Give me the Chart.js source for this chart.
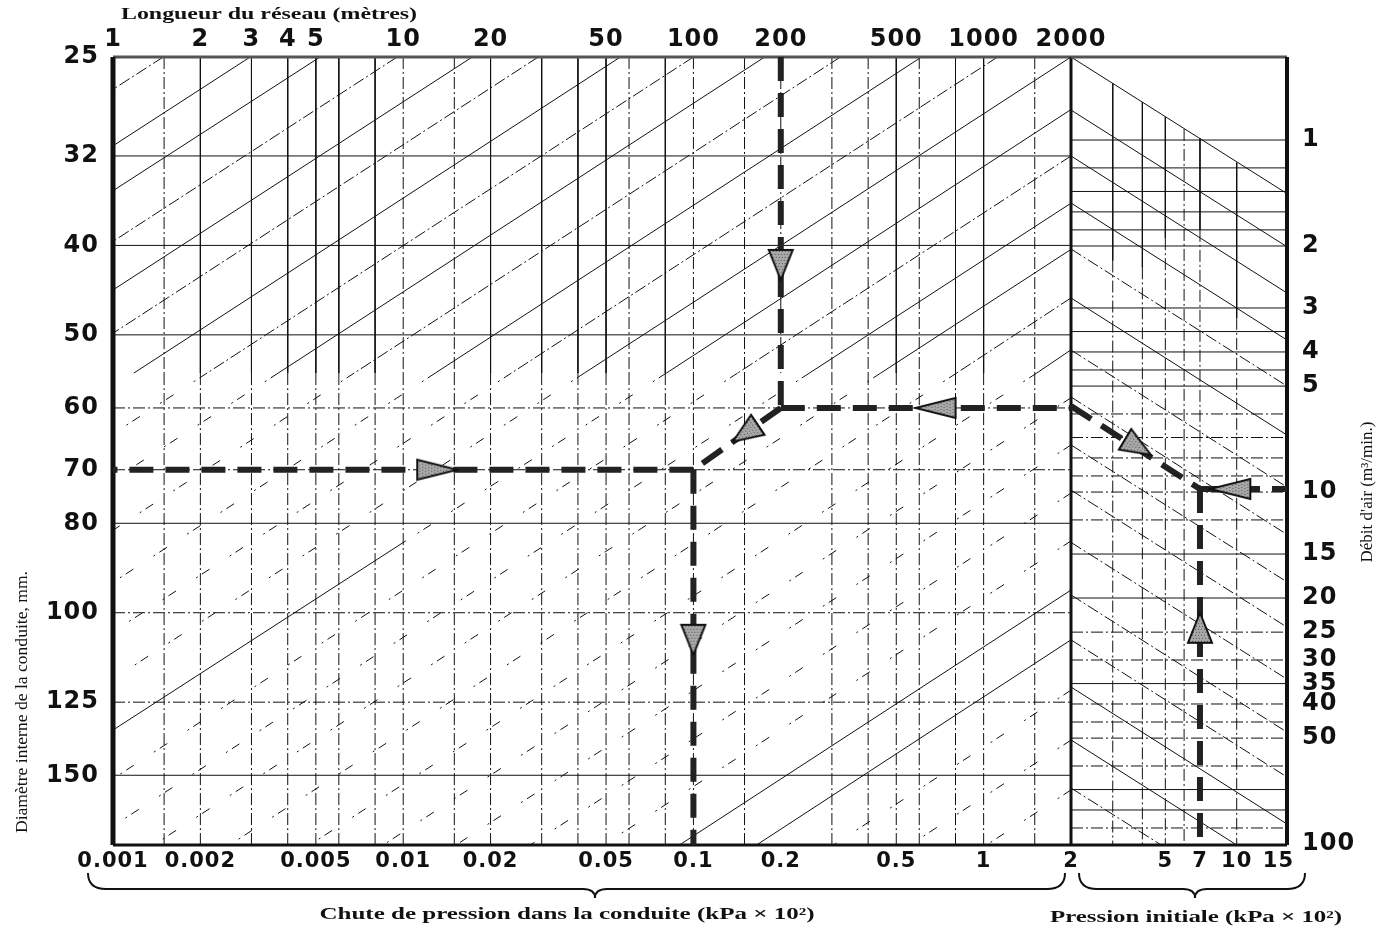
<!DOCTYPE html>
<html>
<head>
<meta charset="utf-8">
<title>Nomogramme réseau d'air comprimé</title>
<script src="https://cdn.jsdelivr.net/npm/chart.js@4.4.1/dist/chart.umd.min.js"></script>
<style>
  html, body { margin: 0; padding: 0; background: #fff; }
  #wrap { position: relative; width: 1385px; height: 930px; }
  #wrap canvas { position: absolute; left: 0; top: 0; }
</style>
</head>
<body>
<div id="wrap">
  <canvas id="leftPanel" width="1385" height="930"></canvas>
  <canvas id="rightPanel" width="1385" height="930"></canvas>
</div>
<script>
// ---- tick labels ----
const diamTicks = [25, 32, 40, 50, 60, 70, 80, 100, 125, 150];
const lengthTicks = [1, 2, 3, 4, 5, 10, 20, 50, 100, 200, 500, 1000, 2000];
const dropTicks = [0.001, 0.002, 0.005, 0.01, 0.02, 0.05, 0.1, 0.2, 0.5, 1, 2];
const initTicks = [5, 7, 10, 15];
const flowTicks = [1, 2, 3, 4, 5, 10, 15, 20, 25, 30, 35, 40, 50, 100];

// ---- left panel grid (diametre mm / longueur m) ----
const diamSolid = [32, 40, 50, 80, 150];
const diamDash = [60, 70, 100, 125];
const lenSolid = [2, 3, 4, 5, 6, 8, 20, 30, 40, 50, 80, 500, 800, 1000];
const lenDash = [1.5, 10, 15, 60, 100, 150, 200, 300, 400, 600, 1500];
const lenAll = [1.5, 2, 3, 4, 5, 6, 8, 10, 15, 20, 30, 40, 50, 60, 80, 100, 150, 300, 400, 500, 600, 800, 1000, 1500];

// diagonals [chute1, diam1, chute2, diam2]
const diagSolid = [
  [0.00297, 25, 0.001, 31.2], [0.00517, 25, 0.001, 34.9], [0.0173, 25, 0.001, 44.7],
  [0.056, 25, 0.00118, 55], [0.176, 25, 0.00371, 55], [0.611, 25, 0.0129, 55],
  [2, 25, 0.0421, 55], [2, 28.5, 0.0807, 55], [2, 36.0, 0.251, 55],
  [2, 40.4, 0.442, 55], [2, 51.9, 1.524, 55],
  [0.0102, 83.6, 0.001, 134], [2, 94.5, 0.0895, 178.5], [2, 107, 0.165, 178.5]
];
const diagDash = [
  [0.00149, 25, 0.001, 27.1], [0.00953, 25, 0.001, 39.6], [0.0292, 25, 0.001, 49.8],
  [0.1, 25, 0.00211, 55], [0.321, 25, 0.00678, 55], [1.117, 25, 0.0236, 55],
  [2, 32.0, 0.142, 55], [2, 45.6, 0.807, 55]
];
const diagSparse = [
  [0.00211, 55, 0.001, 64.0], [0.00371, 55, 0.001, 71.8], [0.00678, 55, 0.001, 81.4],
  [0.0129, 55, 0.001, 92.7], [0.0236, 55, 0.001, 104.9], [0.0421, 55, 0.001, 118.0],
  [0.0807, 55, 0.0102, 83.6], [0.142, 55, 0.001, 151.3], [0.251, 55, 0.001, 170.3],
  [0.442, 55, 0.00138, 178.5], [0.807, 55, 0.00252, 178.5], [1.524, 55, 0.00476, 178.5],
  [2, 58.5, 0.00853, 178.5], [2, 65.8, 0.0152, 178.5], [2, 74.2, 0.0274, 178.5],
  [2, 83.6, 0.049, 178.5], [2, 121.3, 0.304, 178.5], [2, 137.4, 0.557, 178.5],
  [2, 155.6, 1.023, 178.5]
];

// example path, left panel
const pathLeft = [
  [0.2, 25, 0.2, 60], [0.2, 60, 2, 60], [0.2, 60, 0.1, 70],
  [0.1, 70, 0.001, 70], [0.1, 70, 0.1, 178.5]
];
const arrowsLeft = [
  { x: 0.2, y: 42 }, { x: 0.683, y: 60 }, { x: 0.151, y: 63.9 },
  { x: 0.0131, y: 70 }, { x: 0.1, y: 107 }
];

// ---- right panel (pression initiale / debit d'air) ----
const flowSolid = [1, 1.2, 1.4, 1.6, 1.8, 2, 3, 3.5, 4, 4.5, 5, 15, 20, 35, 70, 80];
const flowDash = [6, 7, 8, 9, 10, 12, 25, 30, 40, 45, 50, 60, 90];
// [pression, debit haut, debit bas]
const initSolid = [[3, 0.69, 2.2], [4, 0.78, 2.3], [5, 0.86, 1.9], [7, 0.99, 1.8], [10, 1.16, 3.2]];
const initDash = [[3, 2.2, 100.6], [4, 2.3, 100.6], [5, 1.9, 100.6], [6, 0.93, 100.6], [7, 1.8, 9.8], [10, 3.2, 100.6]];
// [pression1, debit1, pression2, debit2]
const rdSolid = [
  [2, 0.581, 16.3, 1.42], [2, 0.822, 16.3, 2.01], [2, 1.11, 16.3, 2.72],
  [2, 1.51, 16.3, 3.70], [2, 2.81, 16.3, 6.89], [2, 35.8, 16.3, 87.7], [2, 50.6, 10.0, 100.6]
];
const rdDash = [
  [2, 2.04, 16.3, 5.0], [2, 3.95, 16.3, 9.68], [2, 5.37, 16.3, 13.2],
  [2, 7.35, 16.3, 18.0], [2, 9.87, 16.3, 24.2], [2, 13.9, 16.3, 34.0],
  [2, 19.6, 16.3, 48.1], [2, 26.3, 16.3, 64.5], [2, 69.3, 4.8, 100.6]
];
const pathRight = [[2, 5.7, 7, 9.8], [7, 9.8, 16.3, 9.8], [7, 9.8, 7, 100.6]];
const arrowsRight = [{ x: 3.83, y: 7.45 }, { x: 9.4, y: 9.8 }, { x: 7, y: 24.3 }];

const D_MIN = 25, D_MAX = 178.5, P_MIN = 0.001, P_MAX = 2;
const L_MIN = 1, L_MAX = 2000;
const I_MIN = 2, I_MAX = 16.3, Q_MIN = 0.581, Q_MAX = 100.6;

function segs(list) {
  const pts = [];
  list.forEach(s => {
    pts.push({ x: s[0], y: s[1] }, { x: s[2], y: s[3] }, { x: s[2], y: null });
  });
  return pts;
}
const hSegs = (vals, a, b) => segs(vals.map(v => [a, v, b, v]));
const vSegs = (vals, a, b) => segs(vals.map(v => [v, a, v, b]));

const DASHDOT = [12, 3, 2, 3];
const SPARSE = [9, 5, 2, 24];
const INK = '#111';

function line(data, extra) {
  return Object.assign({
    data: data, showLine: true, pointRadius: 0, borderColor: INK, borderWidth: 1,
    fill: false, spanGaps: false, order: 10
  }, extra);
}

// arrow heads (stippled triangles, pointing up before rotation)
function makeTri(w, h) {
  const c = document.createElement('canvas');
  c.width = w + 4; c.height = h + 4;
  const g = c.getContext('2d');
  g.beginPath();
  g.moveTo(c.width / 2, 2); g.lineTo(w + 2, h + 2); g.lineTo(2, h + 2); g.closePath();
  g.fillStyle = '#a8a8a8'; g.fill();
  g.save(); g.clip(); g.fillStyle = '#555';
  for (let i = 0; i < c.width; i += 3) for (let j = 0; j < c.height; j += 3) g.fillRect(i + (j % 2), j, 1, 1);
  g.restore();
  g.lineWidth = 2; g.strokeStyle = INK; g.stroke();
  return c;
}
const triV = makeTri(24, 30);
const triH = makeTri(20, 40);

// custom tick lists + fixed axis sizes
function fixTicks(vals) { return axis => { axis.ticks = vals.map(v => ({ value: v })); }; }
const tickFont = size => ({ family: 'DejaVu Sans', weight: 'bold', size: size });
function logAxis(extra) {
  return Object.assign({
    type: 'logarithmic',
    grid: { display: false, drawTicks: false },
    border: { display: false }
  }, extra);
}

function fitText(ctx, text, cx, cy, width, font, rot) {
  ctx.save();
  ctx.font = font;
  ctx.fillStyle = INK;
  ctx.textAlign = 'center';
  ctx.textBaseline = 'middle';
  ctx.translate(cx, cy);
  if (rot) ctx.rotate(rot);
  const w = ctx.measureText(text).width;
  ctx.scale(width / w, 1);
  ctx.fillText(text, 0, 0);
  ctx.restore();
}

function drawBrace(ctx, x1, x2, xm, y0) {
  const y1 = y0 + 16, y2 = y0 + 25;
  ctx.beginPath();
  ctx.moveTo(x1, y0);
  ctx.quadraticCurveTo(x1, y1, x1 + 18, y1);
  ctx.lineTo(xm - 12, y1);
  ctx.quadraticCurveTo(xm, y1, xm, y2);
  ctx.quadraticCurveTo(xm, y1, xm + 12, y1);
  ctx.lineTo(x2 - 18, y1);
  ctx.quadraticCurveTo(x2, y1, x2, y0);
  ctx.stroke();
}

const spacing = {
  id: 'spacing',
  beforeDraw(chart) { chart.ctx.letterSpacing = '1px'; }
};

const decorLeft = {
  id: 'decorLeft',
  afterDraw(chart) {
    const ctx = chart.ctx;
    const xs = chart.scales.x;
    ctx.save();
    ctx.letterSpacing = '0px';
    ctx.strokeStyle = INK;
    ctx.lineWidth = 2;
    drawBrace(ctx, xs.getPixelForValue(P_MIN) - 25, xs.getPixelForValue(P_MAX) - 6, 595, 873);
    fitText(ctx, 'Longueur du réseau (mètres)', 269, 15, 296, 'bold 16px "Liberation Serif"');
    fitText(ctx, 'Diamètre interne de la conduite, mm.', 23, 702, 262, '17px "Liberation Serif"', -Math.PI / 2);
    fitText(ctx, 'Chute de pression dans la conduite (kPa × 10²)', 567, 915, 495, 'bold 16px "Liberation Serif"');
    ctx.restore();
  }
};

const decorRight = {
  id: 'decorRight',
  afterDraw(chart) {
    const ctx = chart.ctx;
    const xs = chart.scales.x;
    ctx.save();
    ctx.letterSpacing = '0px';
    ctx.strokeStyle = INK;
    ctx.lineWidth = 2;
    drawBrace(ctx, xs.getPixelForValue(I_MIN) + 8, xs.getPixelForValue(I_MAX) + 18, 1195, 873);
    fitText(ctx, 'Pression initiale (kPa × 10²)', 1196, 918, 292, 'bold 16px "Liberation Serif"');
    fitText(ctx, 'Débit d\'air (m³/min.)', 1368, 492, 141, '16px "Liberation Serif"', -Math.PI / 2);
    ctx.restore();
  }
};

const common = {
  responsive: false,
  animation: false,
  devicePixelRatio: 1,
  events: [],
  plugins: { legend: { display: false }, tooltip: { enabled: false } }
};

// ---- left chart: chute de pression vs diametre ----
new Chart(document.getElementById('leftPanel'), {
  type: 'scatter',
  data: {
    datasets: [
      {
        data: arrowsLeft, showLine: false, order: 0,
        pointStyle: [triV, triH, triV, triH, triV],
        rotation: [180, 270, 236, 90, 180],
        pointRadius: 14, clip: false
      },
      line(segs(pathLeft), { borderWidth: 6, borderDash: [24, 12], borderColor: '#222', order: 1 }),
      line(segs([[P_MIN, D_MIN, P_MIN, D_MAX]]), { borderWidth: 5, order: 2, clip: false }),
      line(segs([[P_MAX, D_MIN, P_MAX, D_MAX], [P_MIN, D_MAX, P_MAX, D_MAX]]), { borderWidth: 3, order: 2, clip: false }),
      line(segs([[P_MIN, D_MIN, P_MAX, D_MIN]]), { borderWidth: 3, borderColor: '#555', order: 2, clip: false }),
      line(hSegs(diamSolid, P_MIN, P_MAX), {}),
      line(hSegs(diamDash, P_MIN, P_MAX), { borderDash: DASHDOT }),
      line(vSegs(lenSolid, D_MIN, 55), { xAxisID: 'xTop' }),
      line(vSegs(lenDash, D_MIN, 55), { xAxisID: 'xTop', borderDash: DASHDOT }),
      line(vSegs(lenAll, 55, D_MAX), { xAxisID: 'xTop', borderDash: DASHDOT }),
      line(segs(diagSolid), {}),
      line(segs(diagDash), { borderDash: DASHDOT }),
      line(segs(diagSparse), { borderDash: SPARSE })
    ]
  },
  options: Object.assign({}, common, {
    layout: { padding: { left: 0, top: 0, right: 1385 - 1071, bottom: 0 } },
    scales: {
      x: logAxis({
        position: 'bottom', min: P_MIN, max: P_MAX,
        afterBuildTicks: fixTicks(dropTicks),
        afterFit: a => { a.height = 85; },
        ticks: { autoSkip: false, maxRotation: 0, padding: 4, color: INK, font: tickFont(21), callback: v => String(v) }
      }),
      xTop: logAxis({
        position: 'top', min: L_MIN, max: L_MAX,
        afterBuildTicks: fixTicks(lengthTicks),
        afterFit: a => { a.height = 57; },
        ticks: { autoSkip: false, maxRotation: 0, padding: 3, color: INK, font: tickFont(24), callback: v => String(v) }
      }),
      y: logAxis({
        position: 'left', reverse: true, min: D_MIN, max: D_MAX,
        afterBuildTicks: fixTicks(diamTicks),
        afterFit: a => { a.width = 113; },
        ticks: { autoSkip: false, padding: 14, color: INK, font: tickFont(24), callback: v => String(v) }
      })
    }
  }),
  plugins: [spacing, decorLeft]
});

// ---- right chart: pression initiale vs debit d'air ----
new Chart(document.getElementById('rightPanel'), {
  type: 'scatter',
  data: {
    datasets: [
      {
        data: arrowsRight, showLine: false, order: 0,
        pointStyle: [triV, triH, triV],
        rotation: [121, 270, 0],
        pointRadius: 14, clip: false
      },
      line(segs(pathRight), { borderWidth: 6, borderDash: [24, 12], borderColor: '#222', order: 1 }),
      line(segs([[I_MAX, Q_MIN, I_MAX, Q_MAX]]), { borderWidth: 4, order: 2, clip: false }),
      line(segs([[I_MIN, Q_MAX, I_MAX, Q_MAX]]), { borderWidth: 3, order: 2, clip: false }),
      line(segs([[I_MIN, Q_MIN, I_MAX, Q_MIN]]), { borderWidth: 3, borderColor: '#555', order: 2, clip: false }),
      line(hSegs(flowSolid, I_MIN, I_MAX), {}),
      line(hSegs(flowDash, I_MIN, I_MAX), { borderDash: DASHDOT }),
      line(segs(initSolid.map(s => [s[0], s[1], s[0], s[2]])), {}),
      line(segs(initDash.map(s => [s[0], s[1], s[0], s[2]])), { borderDash: DASHDOT }),
      line(segs(rdSolid), {}),
      line(segs(rdDash), { borderDash: DASHDOT })
    ]
  },
  options: Object.assign({}, common, {
    layout: { padding: { left: 1071, top: 57, right: 0, bottom: 0 } },
    scales: {
      x: logAxis({
        position: 'bottom', min: I_MIN, max: I_MAX,
        afterBuildTicks: fixTicks(initTicks),
        afterFit: a => { a.height = 85; },
        ticks: { autoSkip: false, maxRotation: 0, padding: 4, color: INK, font: tickFont(21), callback: v => String(v) }
      }),
      y: logAxis({
        position: 'right', reverse: true, min: Q_MIN, max: Q_MAX,
        afterBuildTicks: fixTicks(flowTicks),
        afterFit: a => { a.width = 1385 - 1287; },
        ticks: { autoSkip: false, padding: 15, color: INK, font: tickFont(24), callback: v => String(v) }
      })
    }
  }),
  plugins: [spacing, decorRight]
});
</script>
</body>
</html>
